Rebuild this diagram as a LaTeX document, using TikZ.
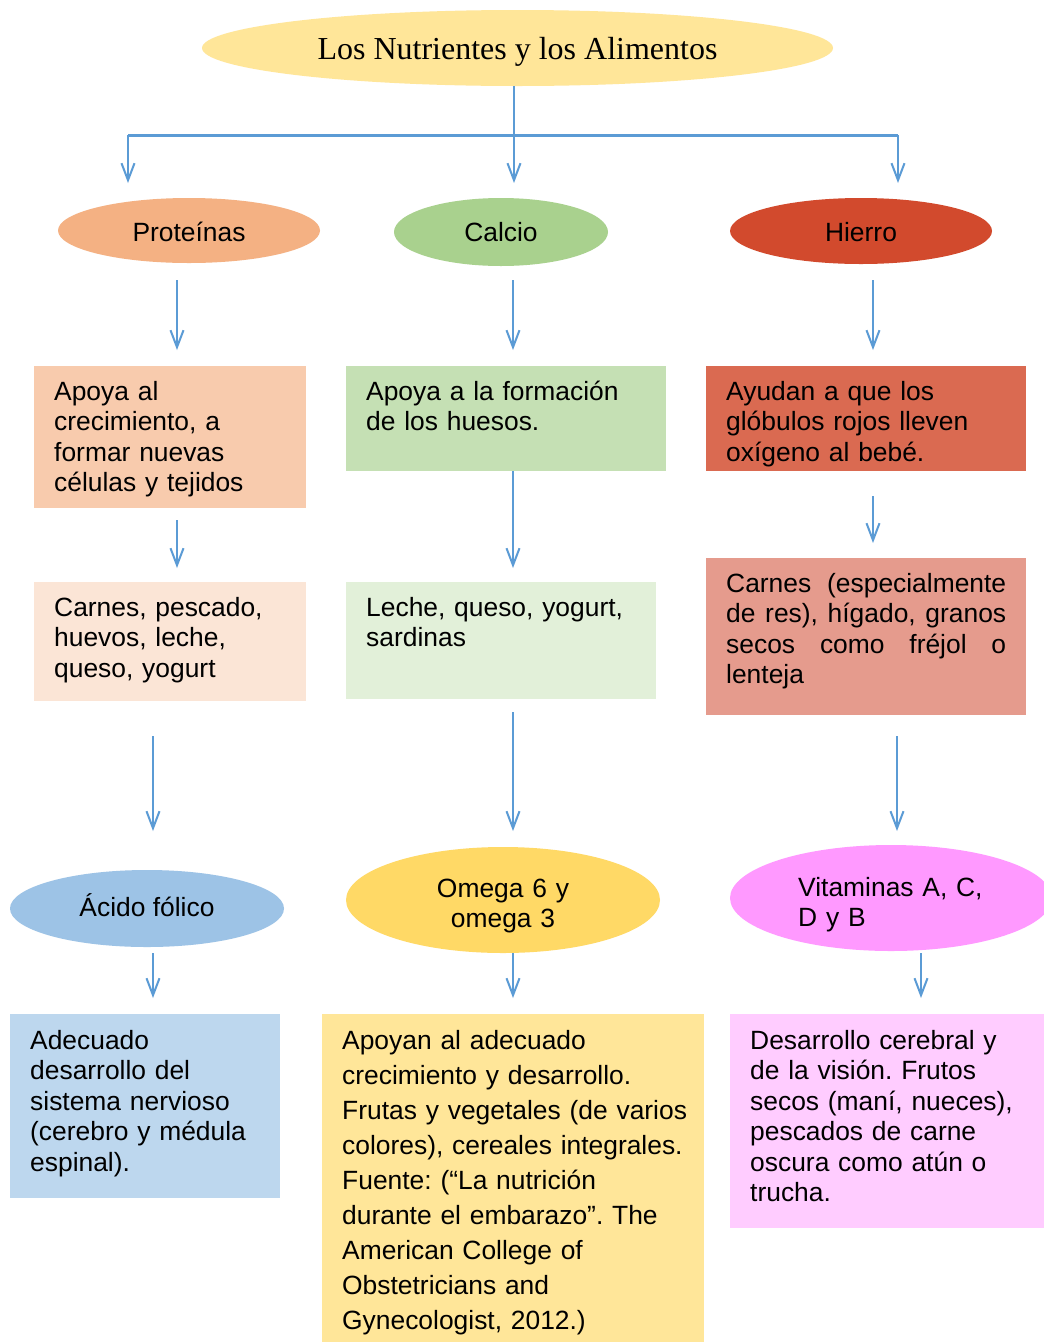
\documentclass[tikz,border=0pt]{standalone}
\usepackage{fontspec}
\setmainfont{Liberation Sans}
\newfontfamily\titlefont{Liberation Serif}
\usetikzlibrary{shapes.geometric,arrows.meta}
\definecolor{arrowblue}{HTML}{5B9BD5}
\definecolor{titleY}{HTML}{FFE699}
\definecolor{protO}{HTML}{F4B183}
\definecolor{calcG}{HTML}{A9D18E}
\definecolor{hierR}{HTML}{D24A2D}
\definecolor{acidB}{HTML}{9DC3E6}
\definecolor{omegY}{HTML}{FFD966}
\definecolor{vitP}{HTML}{FF99FF}
\definecolor{bxA}{HTML}{F8CBAD}
\definecolor{bxB}{HTML}{C5E0B4}
\definecolor{bxC}{HTML}{DA6A51}
\definecolor{bxD}{HTML}{FBE5D6}
\definecolor{bxE}{HTML}{E2F0D9}
\definecolor{bxF}{HTML}{E59B8D}
\definecolor{bxG}{HTML}{BDD7EE}
\definecolor{bxH}{HTML}{FFE699}
\definecolor{bxI}{HTML}{FFCCFF}
\begin{document}
\frenchspacing
\begin{tikzpicture}[x=1pt,y=-1pt,
  ell/.style={ellipse, draw=none, inner sep=0pt},
  lblone/.style={anchor=base, inner sep=0pt, font=\fontsize{26.4}{30}\selectfont},
  lbl/.style={anchor=base, inner sep=0pt, align=center, text width=300pt, font=\fontsize{26.4}{30}\selectfont},
  boxr/.style={rectangle, draw=none, inner sep=0pt, anchor=north west},
  txt/.style={anchor=base west, inner sep=0pt, align=left, font=\fontsize{26.4}{30.5}\selectfont},
  arr/.style={draw=arrowblue, line width=2pt, -{Straight Barb[length=17pt,width=13pt]}},
  link/.style={draw=arrowblue, line width=2pt}]
\useasboundingbox (0,0) rectangle (1044,1342);
\clip (0,0) rectangle (1044,1342);
\fill[white] (0,0) rectangle (1044,1342);

% title
\node[ell, fill=titleY, minimum width=631pt, minimum height=76pt] (title) at (517.5,48) {};
\node[lblone, font=\titlefont\fontsize{32}{38}\selectfont] (titlet) at (517.5,59) {Los Nutrientes y los Alimentos};

% level 1 ellipses
\node[ell, fill=protO, minimum width=262pt, minimum height=65pt] (prot) at (189,230.5) {};
\node[ell, fill=calcG, minimum width=214pt, minimum height=68pt] (calc) at (501,232) {};
\node[ell, fill=hierR, minimum width=262pt, minimum height=66pt] (hier) at (861,231) {};
\node[lblone] (prott) at (189,241) {Proteínas};
\node[lblone] (calct) at (501,241) {Calcio};
\node[lblone] (hiert) at (861,241) {Hierro};

% level 2 boxes
\node[boxr, fill=bxA, minimum width=272pt, minimum height=142pt] (b1) at (34,366) {};
\node[boxr, fill=bxB, minimum width=320pt, minimum height=105pt] (b2) at (346,366) {};
\node[boxr, fill=bxC, minimum width=320pt, minimum height=105pt] (b3) at (706,366) {};
\node[txt, text width=250pt] (t1) at (54,400) {Apoya al\\crecimiento, a\\formar nuevas\\células y tejidos};
\node[txt, text width=295pt] (t2) at (366,400) {Apoya a la formación\\de los huesos.};
\node[txt, text width=295pt] (t3) at (726,400) {Ayudan a que los\\glóbulos rojos lleven\\oxígeno al bebé.};

% level 3 boxes
\node[boxr, fill=bxD, minimum width=272pt, minimum height=119pt] (b4) at (34,582) {};
\node[boxr, fill=bxE, minimum width=310pt, minimum height=117pt] (b5) at (346,582) {};
\node[boxr, fill=bxF, minimum width=320pt, minimum height=157pt] (b6) at (706,558) {};
\node[txt, text width=250pt] (t4) at (54,616) {Carnes, pescado,\\huevos, leche,\\queso, yogurt};
\node[txt, text width=285pt] (t5) at (366,616) {Leche, queso, yogurt,\\sardinas};
\node[txt, text width=290pt] (t6) at (726,592) {\makebox[280pt][s]{Carnes\hfill(especialmente}\\\makebox[280pt][s]{de\hfill res),\hfill hígado,\hfill granos}\\\makebox[280pt][s]{secos\hfill como\hfill fréjol\hfill o}\\lenteja};

% level 4 ellipses
\node[ell, fill=acidB, minimum width=274pt, minimum height=77pt] (acid) at (147,908.5) {};
\node[ell, fill=omegY, minimum width=314pt, minimum height=106pt] (omeg) at (503,900) {};
\node[ell, fill=vitP, minimum width=322pt, minimum height=106pt] (vita) at (891,898) {};
\node[lblone] (acidt) at (147,916) {Ácido fólico};
\node[lbl] (omegt) at (503,897) {Omega 6 y\\omega 3};
\node[lbl, anchor=base west, align=left, text width=240pt] (vitat) at (798,896) {Vitaminas A, C,\\D y B};

% level 5 boxes
\node[boxr, fill=bxG, minimum width=270pt, minimum height=184pt] (b7) at (10,1014) {};
\node[boxr, fill=bxH, minimum width=382pt, minimum height=330pt] (b8) at (322,1014) {};
\node[boxr, fill=bxI, minimum width=316pt, minimum height=214pt] (b9) at (730,1014) {};
\node[txt, text width=245pt] (t7) at (30,1049) {Adecuado\\desarrollo del\\sistema nervioso\\(cerebro y médula\\espinal).};
\node[txt, text width=358pt, font=\fontsize{26.4}{35.1}\selectfont] (t8) at (342,1049) {Apoyan al adecuado\\crecimiento y desarrollo.\\Frutas y vegetales (de varios\\colores), cereales integrales.\\Fuente: (“La nutrición\\durante el embarazo”. The\\American College of\\Obstetricians and\\Gynecologist, 2012.)};
\node[txt, text width=290pt] (t9) at (750,1049) {Desarrollo cerebral y\\de la visión. Frutos\\secos (maní, nueces),\\pescados de carne\\oscura como atún o\\trucha.};

% connectors: title to level 1
\coordinate (hub) at (514,135);
\coordinate (hl) at (128,135);
\coordinate (hr) at (898,135);
\coordinate (e1) at (128,183);
\coordinate (e2) at (514,183);
\coordinate (e3) at (898,183);
\draw[link] (title.south -| hub) -- (hub);
\draw[link, line width=3pt] (hl) -- (hr);
\draw[arr] (hl) -- (e1);
\draw[arr] (hub) -- (e2);
\draw[arr] (hr) -- (e3);

% level 1 -> level 2
\coordinate (p1s) at (177,280); \coordinate (p1e) at (177,350);
\coordinate (p2s) at (513,280); \coordinate (p2e) at (513,350);
\coordinate (p3s) at (873,280); \coordinate (p3e) at (873,350);
\draw[arr] (p1s) -- (p1e);
\draw[arr] (p2s) -- (p2e);
\draw[arr] (p3s) -- (p3e);

% level 2 -> level 3
\coordinate (q1s) at (177,520); \coordinate (q1e) at (177,568);
\coordinate (q2s) at (513,471); \coordinate (q2e) at (513,568);
\coordinate (q3s) at (873,496); \coordinate (q3e) at (873,543);
\draw[arr] (q1s) -- (q1e);
\draw[arr] (q2s) -- (q2e);
\draw[arr] (q3s) -- (q3e);

% level 3 -> level 4
\coordinate (r1s) at (153,736); \coordinate (r1e) at (153,831);
\coordinate (r2s) at (513,712); \coordinate (r2e) at (513,831);
\coordinate (r3s) at (897,736); \coordinate (r3e) at (897,831);
\draw[arr] (r1s) -- (r1e);
\draw[arr] (r2s) -- (r2e);
\draw[arr] (r3s) -- (r3e);

% level 4 -> level 5
\coordinate (s1s) at (153,953); \coordinate (s1e) at (153,998);
\coordinate (s2s) at (513,953); \coordinate (s2e) at (513,998);
\coordinate (s3s) at (921,953); \coordinate (s3e) at (921,998);
\draw[arr] (s1s) -- (s1e);
\draw[arr] (s2s) -- (s2e);
\draw[arr] (s3s) -- (s3e);
\end{tikzpicture}
\end{document}
